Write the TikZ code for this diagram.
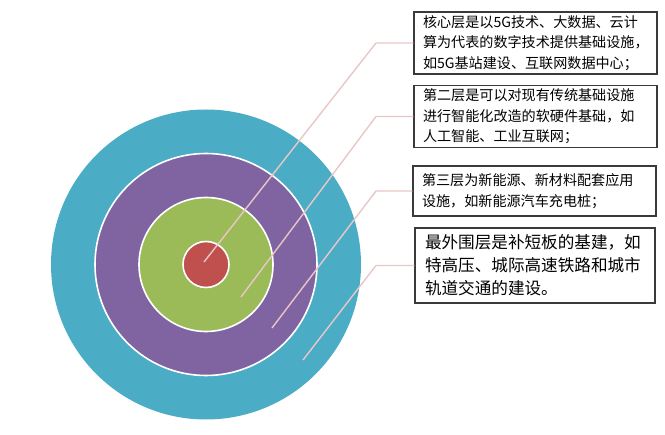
\documentclass[tikz,border=0pt]{standalone}
\usepackage{fontspec}
\newfontfamily\cjk{Noto Sans CJK SC}
\usetikzlibrary{positioning}
\definecolor{Aqua}{HTML}{4BACC6}
\definecolor{Violet}{HTML}{8064A2}
\definecolor{Leaf}{HTML}{9BBB59}
\definecolor{Brick}{HTML}{C0504D}
\definecolor{Blush}{HTML}{EAC6C6}
\definecolor{Frame}{HTML}{3A3A3A}
\tikzset{ring/.style={draw=white,line width=1.6pt},callout/.style={draw=Blush,line width=1.4pt},note/.style={draw=Frame,line width=1.2pt,fill=white,align=left,inner xsep=9pt,text width=225pt,font=\cjk\fontsize{14.1}{20.5}\selectfont,text=black},bignote/.style={note,inner xsep=10pt,text width=220pt,font=\cjk\fontsize{16.6}{23}\selectfont}}

\begin{document}
\begin{tikzpicture}[x=1pt,y=-1pt]
\useasboundingbox (0,0) rectangle (665,435);
\fill[Aqua] (206,264.5) circle[radius=155];
\filldraw[ring,fill=Violet] (206,264.5) circle[radius=111];
\filldraw[ring,fill=Leaf] (206,264.5) circle[radius=67];
\filldraw[ring,fill=Brick] (206,264.5) circle[radius=23];
\node[note,minimum height=62pt,minimum width=243pt] (core) at (535.5,43) {核心层是以5G技术、大数据、云计\\算为代表的数字技术提供基础设施，\\如5G基站建设、互联网数据中心；};
\node[note,minimum height=61pt,minimum width=243pt] (soft) at (535.5,116.5) {第二层是可以对现有传统基础设施\\进行智能化改造的软硬件基础，如\\人工智能、工业互联网；};
\node[note,minimum height=50pt,minimum width=241pt] (energy) at (534.5,191) {第三层为新能源、新材料配套应用\\设施，如新能源汽车充电桩；};
\node[bignote,minimum height=75pt,minimum width=240pt] (outer) at (535,265.5) {最外围层是补短板的基建，如\\特高压、城际高速铁路和城市\\轨道交通的建设。};
% callout lines from the rings to the notes
\coordinate (p1) at (204,262);
\coordinate (p2) at (241,297);
\coordinate (p3) at (272,328);
\coordinate (p4) at (303,360);
\coordinate (e1) at (376,43);
\coordinate (e2) at (376,116.5);
\coordinate (e3) at (376,191);
\coordinate (e4) at (376,265.5);
\draw[callout] (p1)--(e1)--(core.west);
\draw[callout] (p2)--(e2)--(soft.west);
\draw[callout] (p3)--(e3)--(energy.west);
\draw[callout] (p4)--(e4)--(outer.west);
\end{tikzpicture}
\end{document}
